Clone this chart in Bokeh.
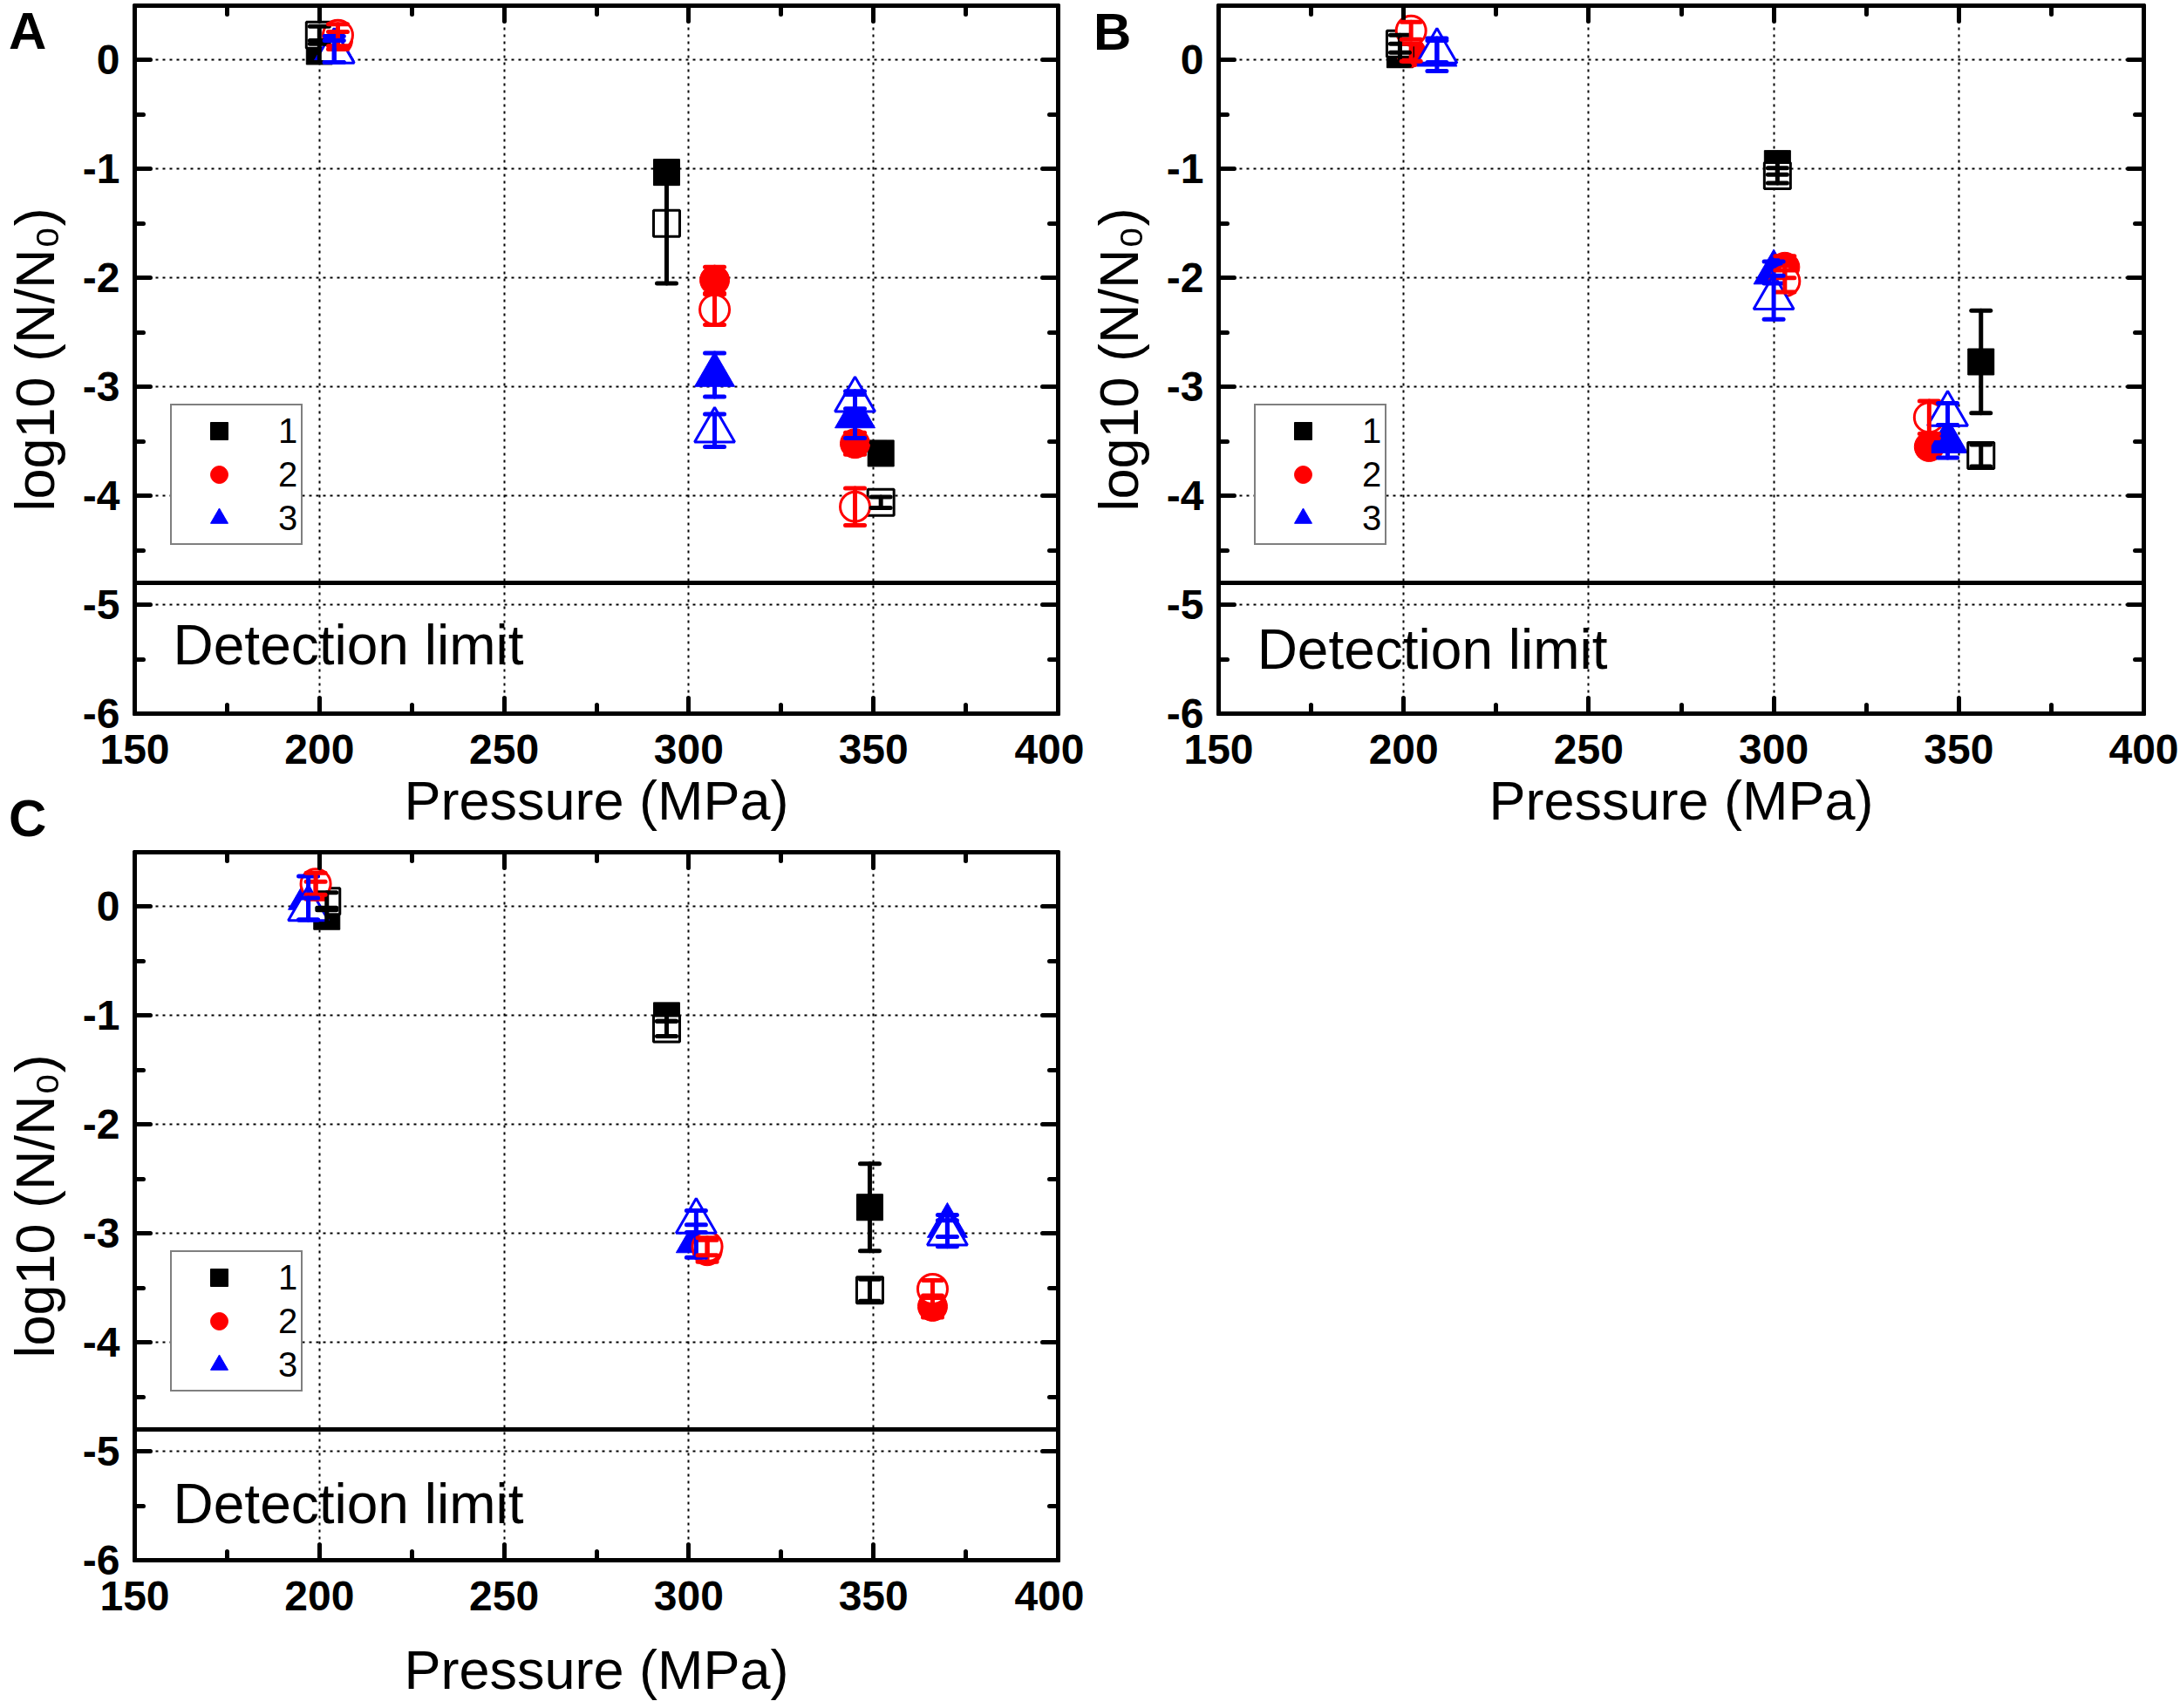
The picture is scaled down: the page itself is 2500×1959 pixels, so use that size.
from bokeh.embed import file_html
from bokeh.layouts import column, row
from bokeh.models import (ColumnDataSource, CustomJSTickFormatter, Div, Label, Legend, LegendItem,
                          LinearAxis, Range1d, SingleIntervalTicker, Span, TeeHead, Whisker)
from bokeh.plotting import figure
from bokeh.resources import INLINE

FONT = "Liberation Sans"

SERIES_LABELS = ["1", "2", "3"]
COLORS = ["black", "red", "blue"]
MARKERS = ["square", "circle", "triangle"]
MARKER_SIZES = [30, 34, 46]

DETECTION_LIMIT = -4.8
X_START, X_END = 150, 400
Y_START, Y_END = -6, 0.5

# ---- panel A ----
A1_x = [200, 294, 352]
A1_filled = [0.08, -1.03, -3.61]
A1_filled_err = [0.10, 0.10, 0.10]
A1_open = [0.23, -1.50, -4.06]
A1_open_err = [0.08, 0.55, 0.05]
A2_x = [205, 307, 345]
A2_filled = [0.18, -2.02, -3.52]
A2_filled_err = [0.08, 0.12, 0.10]
A2_open = [0.23, -2.29, -4.10]
A2_open_err = [0.10, 0.14, 0.17]
A3_x = [204, 307, 345]
A3_filled = [0.10, -2.89, -3.27]
A3_filled_err = [0.12, 0.20, 0.20]
A3_open = [0.08, -3.40, -3.12]
A3_open_err = [0.10, 0.15, 0.08]

# ---- panel B ----
B1_x = [199, 301, 356]
B1_filled = [0.05, -0.95, -2.77]
B1_filled_err = [0.10, 0.10, 0.47]
B1_open = [0.15, -1.06, -3.63]
B1_open_err = [0.08, 0.07, 0.10]
B2_x = [202, 303, 342]
B2_filled = [0.07, -1.90, -3.55]
B2_filled_err = [0.08, 0.10, 0.08]
B2_open = [0.27, -2.03, -3.28]
B2_open_err = [0.08, 0.10, 0.15]
B3_x = [209, 300, 347]
B3_filled = [0.05, -1.95, -3.50]
B3_filled_err = [0.15, 0.10, 0.15]
B3_open = [0.08, -2.18, -3.25]
B3_open_err = [0.10, 0.20, 0.10]

# ---- panel C ----
C1_x = [202, 294, 349]
C1_filled = [-0.09, -1.00, -2.76]
C1_filled_err = [0.08, 0.05, 0.40]
C1_open = [0.05, -1.12, -3.52]
C1_open_err = [0.08, 0.07, 0.10]
C2_x = [199, 305, 366]
C2_filled = [0.15, -3.16, -3.67]
C2_filled_err = [0.08, 0.10, 0.10]
C2_open = [0.21, -3.12, -3.51]
C2_open_err = [0.10, 0.08, 0.08]
C3_x = [197, 302, 370]
C3_filled = [0.08, -3.07, -2.93]
C3_filled_err = [0.20, 0.15, 0.10]
C3_open = [-0.02, -2.89, -3.00]
C3_open_err = [0.10, 0.10, 0.12]

DETECTION_TEXT_Y = {"A": -5.37, "B": -5.41, "C": -5.48}

HYPHEN_FORMAT = "return tick.toFixed(0)"


def style_axis(ax, interval, labels=True):
    ax.ticker = SingleIntervalTicker(interval=interval, num_minor_ticks=2)
    ax.axis_line_width = 5
    ax.axis_line_color = "black"
    ax.major_tick_in = 18
    ax.major_tick_out = 0
    ax.minor_tick_in = 10
    ax.minor_tick_out = 0
    ax.major_tick_line_width = 5
    ax.minor_tick_line_width = 5
    ax.major_tick_line_cap = "round"
    ax.minor_tick_line_cap = "round"
    if labels:
        ax.formatter = CustomJSTickFormatter(code=HYPHEN_FORMAT)
        ax.major_label_text_font = FONT
        ax.major_label_text_font_style = "bold"
        ax.major_label_text_font_size = "48px"
        ax.major_label_text_color = "black"
        ax.axis_label_text_font = FONT
        ax.axis_label_text_font_style = "normal"
        ax.axis_label_text_font_size = "63px"
        ax.axis_label_text_color = "black"
    else:
        # mirrored axis: ticks only
        ax.major_label_text_font_size = "0px"
        ax.major_label_standoff = 0


def add_series(p, x, y, err, color, marker, size, filled):
    src = ColumnDataSource(dict(
        x=x, y=y,
        lower=[v - e for v, e in zip(y, err)],
        upper=[v + e for v, e in zip(y, err)],
    ))
    if filled:
        r = p.scatter("x", "y", source=src, marker=marker, size=size,
                      fill_color=color, line_color=color, line_width=1)
    else:
        r = p.scatter("x", "y", source=src, marker=marker, size=size,
                      fill_color="white", line_color=color, line_width=3)
    p.add_layout(Whisker(
        source=src, base="x", lower="lower", upper="upper", level="annotation",
        line_color=color, line_width=5, line_cap="round",
        upper_head=TeeHead(size=22, line_color=color, line_width=5, line_cap="round"),
        lower_head=TeeHead(size=22, line_color=color, line_width=5, line_cap="round"),
    ))
    return r


def make_panel(key, series, frame_width, border_left, border_right, border_top, border_bottom,
               xlabel_standoff=4):
    p = figure(
        frame_width=frame_width, frame_height=812,
        x_range=Range1d(X_START, X_END), y_range=Range1d(Y_START, Y_END),
        x_axis_label="Pressure (MPa)", y_axis_label="log10 (N/N\u2080)",
        min_border_left=border_left, min_border_right=border_right,
        min_border_top=border_top, min_border_bottom=border_bottom,
        output_backend="svg", toolbar_location=None,
    )
    p.background_fill_color = "white"
    p.border_fill_color = "white"
    p.outline_line_color = "black"
    p.outline_line_width = 5

    style_axis(p.xaxis[0], 50)
    style_axis(p.yaxis[0], 1)
    p.xaxis[0].major_label_standoff = 24
    p.xaxis[0].axis_label_standoff = xlabel_standoff
    p.yaxis[0].major_label_standoff = 17
    p.yaxis[0].axis_label_standoff = 17

    top = LinearAxis()
    style_axis(top, 50, labels=False)
    p.add_layout(top, "above")
    right = LinearAxis()
    style_axis(right, 1, labels=False)
    p.add_layout(right, "right")

    for g in (p.xgrid[0], p.ygrid[0]):
        g.grid_line_color = "black"
        g.grid_line_dash = "3 5"
        g.grid_line_width = 2
    p.xgrid[0].ticker = p.xaxis[0].ticker
    p.ygrid[0].ticker = p.yaxis[0].ticker

    p.add_layout(Span(location=DETECTION_LIMIT, dimension="width",
                      line_color="black", line_width=5))
    p.add_layout(Label(x=160.4, y=DETECTION_TEXT_Y[key], text="Detection limit",
                       text_font=FONT, text_font_size="64px", text_color="black",
                       text_baseline="alphabetic"))

    legend_renderers = []
    for i, (x, yf, ef, yo, eo) in enumerate(series):
        r = add_series(p, x, yf, ef, COLORS[i], MARKERS[i], MARKER_SIZES[i], True)
        legend_renderers.append(r)
    for i, (x, yf, ef, yo, eo) in enumerate(series):
        add_series(p, x, yo, eo, COLORS[i], MARKERS[i], MARKER_SIZES[i], False)

    legend = Legend(
        items=[LegendItem(label=lab, renderers=[r]) for lab, r in zip(SERIES_LABELS, legend_renderers)],
        location=(41, 193), glyph_width=100, glyph_height=50, spacing=0,
        padding=4, margin=0, label_standoff=18,
        label_text_font=FONT, label_text_font_size="40px", label_text_color="black",
        background_fill_color="white", background_fill_alpha=1,
        border_line_color="black", border_line_width=2,
    )
    p.add_layout(legend)
    return p


def panel_letter(text, left, top):
    # panel letters sit in the figure margins, where annotations get clipped,
    # so they are absolutely placed html texts on top of the layout
    return Div(
        text=f'<div style="font: bold 60px \'{FONT}\'; line-height: 60px; color: black;">{text}</div>',
        width=60, height=62, margin=0,
        styles={"position": "absolute", "left": f"{left}px", "top": f"{top}px",
                "z-index": "10"},
    )


series_A = [(A1_x, A1_filled, A1_filled_err, A1_open, A1_open_err),
            (A2_x, A2_filled, A2_filled_err, A2_open, A2_open_err),
            (A3_x, A3_filled, A3_filled_err, A3_open, A3_open_err)]
series_B = [(B1_x, B1_filled, B1_filled_err, B1_open, B1_open_err),
            (B2_x, B2_filled, B2_filled_err, B2_open, B2_open_err),
            (B3_x, B3_filled, B3_filled_err, B3_open, B3_open_err)]
series_C = [(C1_x, C1_filled, C1_filled_err, C1_open, C1_open_err),
            (C2_x, C2_filled, C2_filled_err, C2_open, C2_open_err),
            (C3_x, C3_filled, C3_filled_err, C3_open, C3_open_err)]

pA = make_panel("A", series_A, 1059, 154, 30, 6, 147)
pB = make_panel("B", series_B, 1061, 154, 42, 6, 147)
pC = make_panel("C", series_C, 1059, 154, 30, 12, 165, xlabel_standoff=30)

layout = column(row(pA, pB), pC,
                panel_letter("A", 10, 6), panel_letter("B", 1254, 7), panel_letter("C", 10, 909))

open("out.html", "w").write(file_html(layout, INLINE))
